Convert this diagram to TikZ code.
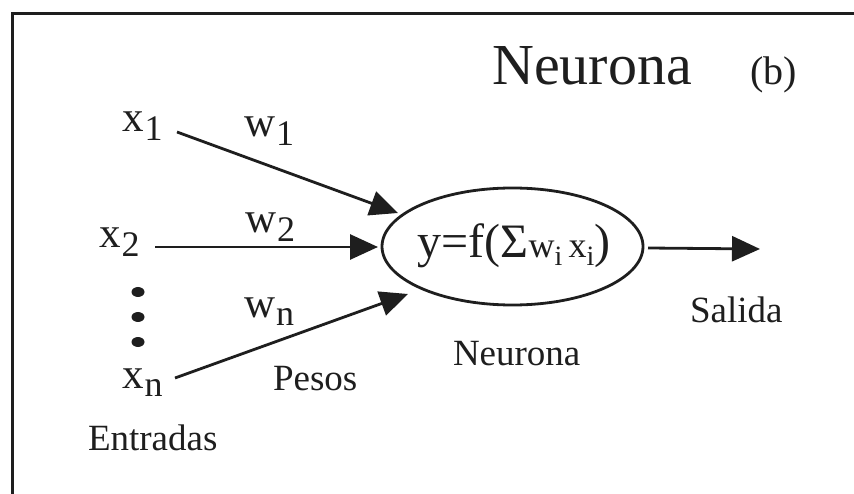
\documentclass[tikz,border=0pt]{standalone}
\usepackage{fontspec}
\setmainfont{Liberation Serif}
\usetikzlibrary{arrows.meta,shapes.geometric}
\definecolor{ink}{HTML}{1E1E1E}
\newcommand\mysub[1]{\kern1pt\raisebox{-9pt}{\fontsize{36}{36}\selectfont #1}}
\newcommand\mysubi[1]{\raisebox{-8pt}{\fontsize{28}{28}\selectfont #1}}
\begin{document}
\begin{tikzpicture}[x=1pt,y=-1pt,
  lbl/.style={anchor=base west, inner sep=0pt, outer sep=0pt, text=ink, font=\fontsize{43}{43}\selectfont},
  captxt/.style={anchor=base west, inner sep=0pt, outer sep=0pt, text=ink, font=\fontsize{37}{37}\selectfont},
  conn/.style={draw=ink, line width=2.8pt, -{Triangle[length=28pt,width=25pt]}},
  dotm/.style={fill=ink, draw=none}]
\useasboundingbox (0,0) rectangle (854,494);
% frame
\draw[ink, line width=3pt] (12,496) -- (12,14) -- (856,14);
% title
\node[anchor=base west, inner sep=0pt, text=ink, font=\fontsize{58}{58}\selectfont] (title) at (492,85) {Neurona};
\node[anchor=base west, inner sep=0pt, text=ink, font=\fontsize{40}{40}\selectfont] (tag) at (750,85) {(b)};
% inputs
\node[lbl] (x1) at (122,132) {x\mysub{1}};
\node[lbl] (x2) at (99,248) {x\mysub{2}};
\node[lbl] (xn) at (122,388) {x\mysub{n}};
% weights
\node[lbl] (w1) at (244,137) {w\mysub{1}};
\node[lbl] (w2) at (245,233) {w\mysub{2}};
\node[lbl] (wn) at (244,317) {w\mysub{n}};
% dots
\fill[dotm] (138,292) ellipse [x radius=6.5, y radius=5];
\fill[dotm] (138,317) ellipse [x radius=6.5, y radius=5];
\fill[dotm] (138,342) ellipse [x radius=6.5, y radius=5];
% neuron
\node[ellipse, draw=ink, line width=2.8pt, minimum width=261pt, minimum height=117pt, inner sep=0pt] (neuron) at (512.5,246.5) {};
\node[anchor=base, inner sep=0pt, text=ink, font=\fontsize{48}{48}\selectfont] (formula) at (514,258)
  {y=f(Σ{\fontsize{36}{36}\selectfont w\mysubi{i}\,x\mysubi{i}})};
% captions
\node[captxt] (pesos) at (273,390) {Pesos};
\node[captxt] (entradas) at (88,450) {Entradas};
\node[captxt] (nlabel) at (453,365) {Neurona};
\node[captxt] (salida) at (690,323) {Salida};
% connector endpoints
\coordinate (s1) at (177,132);
\coordinate (t1) at (398,213);
\coordinate (s2) at (155,247);
\coordinate (t2) at (378,247);
\coordinate (sn) at (175,378);
\coordinate (tn) at (408,294);
\coordinate (so) at (648,248);
\coordinate (to) at (760,249);
\draw[conn] (s1) -- (t1);
\draw[conn] (s2) -- (t2);
\draw[conn] (sn) -- (tn);
\draw[conn] (so) -- (to);
\end{tikzpicture}
\end{document}
